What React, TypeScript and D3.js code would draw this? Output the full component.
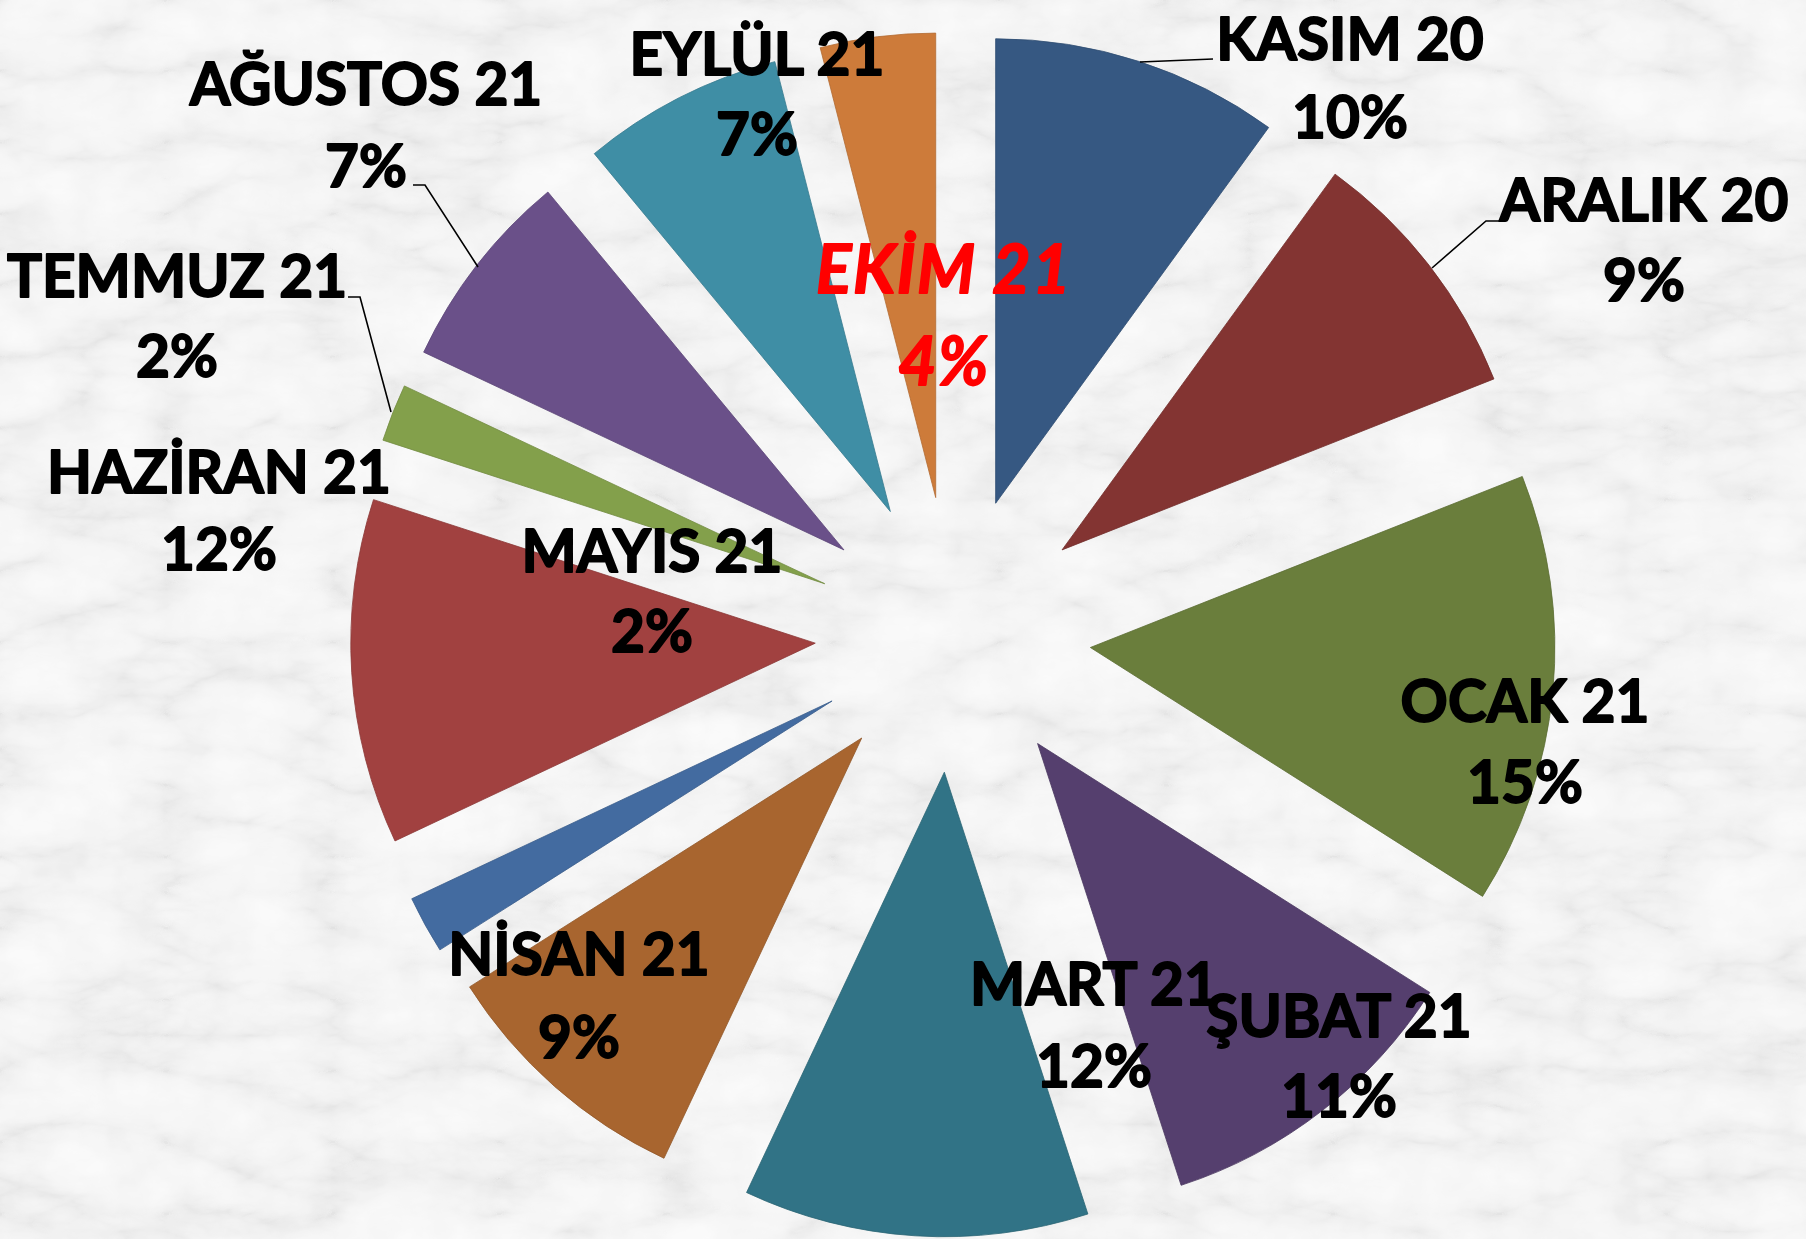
import React from "react";
import * as d3 from "d3";

const months = ["KASIM 20", "ARALIK 20", "OCAK 21", "ŞUBAT 21", "MART 21", "NİSAN 21", "MAYIS 21", "HAZİRAN 21", "TEMMUZ 21", "AĞUSTOS 21", "EYLÜL 21", "EKİM 21"];
const shares = [10, 9, 15, 11, 12, 9, 2, 12, 2, 7, 7, 4];
const sliceColors = ["#365882", "#833432", "#6a7e3c", "#553f6e", "#317386", "#a8652f", "#436ba0", "#a14140", "#83a04b", "#6a5089", "#3f8ea5", "#cd7b3a"];

// layout (label anchor: centre x, first-line baseline y, second-line baseline y)
const labelPos: [number, number, number][] = [
  [1350, 60, 138],
  [1644, 221, 301],
  [1525, 722, 803],
  [1339, 1037, 1117],
  [1094, 1005, 1087],
  [579, 975, 1058],
  [652, 572, 652],
  [219, 493, 570],
  [177, 297, 377],
  [366, 105, 187],
  [757, 75, 155],
  [944, 293, 385],
];
const leaders: [number, number][][] = [
  [[1140, 62], [1213, 59]],
  [[1432, 268], [1486, 221], [1503, 221]],
  [[348, 297], [360, 297], [391, 412]],
  [[413, 185], [425, 185], [478, 267]],
];

const W = 1806;
const H = 1239;
const CX = 953;
const CY = 634.5;
const R = 464.5;
const EXPLODE = 138;

export default function App() {
  React.useEffect(() => {
    document.body.style.margin = "0";
    document.body.style.overflow = "hidden";
  }, []);

  const pie = d3.pie<number>().sort(null).value((d) => d).startAngle(0).endAngle(2 * Math.PI);
  const arcs = pie(shares);
  const arcGen = d3.arc<d3.PieArcDatum<number>>().innerRadius(0).outerRadius(R);
  const line = d3.line();
  const tv = "0.80 0.875 0.915 0.935 0.95 0.958 0.965 0.97";
  const mv = "0.90 0.97 1 1.02";

  return (
    <svg width={W} height={H} style={{ position: "absolute", left: 0, top: 0, display: "block" }}>
      <defs>
        <filter id="marble" x="0" y="0" width="100%" height="100%" filterUnits="userSpaceOnUse">
          <feTurbulence type="turbulence" baseFrequency="0.006 0.014" numOctaves="5" seed="11" result="t" />
          <feColorMatrix in="t" type="matrix" values="1 0 0 0 0  1 0 0 0 0  1 0 0 0 0  0 0 0 0 1" result="g" />
          <feComponentTransfer in="g" result="veins">
            <feFuncR type="table" tableValues={tv} />
            <feFuncG type="table" tableValues={tv} />
            <feFuncB type="table" tableValues={tv} />
          </feComponentTransfer>
          <feTurbulence type="fractalNoise" baseFrequency="0.02" numOctaves="3" seed="4" result="n" />
          <feColorMatrix in="n" type="matrix" values="1 0 0 0 0  1 0 0 0 0  1 0 0 0 0  0 0 0 0 1" result="ng" />
          <feComponentTransfer in="ng" result="mott">
            <feFuncR type="table" tableValues={mv} />
            <feFuncG type="table" tableValues={mv} />
            <feFuncB type="table" tableValues={mv} />
          </feComponentTransfer>
          <feBlend in="veins" in2="mott" mode="multiply" />
        </filter>
      </defs>
      <rect x={0} y={0} width={W} height={H} fill="#ececec" />
      <rect x={0} y={0} width={W} height={H} filter="url(#marble)" />
      <g>
        {arcs.map((a, i) => {
          const mid = (a.startAngle + a.endAngle) / 2;
          const dx = Math.sin(mid) * EXPLODE;
          const dy = -Math.cos(mid) * EXPLODE;
          return (
            <path
              key={months[i]}
              d={arcGen(a) || ""}
              transform={`translate(${CX + dx},${CY + dy})`}
              fill={sliceColors[i]}
              stroke={d3.color(sliceColors[i])!.darker(0.4).toString()}
              strokeWidth={0.8}
            />
          );
        })}
      </g>
      <g fill="none" stroke="#000" strokeWidth={1.6}>
        {leaders.map((pts, i) => (
          <path key={i} d={line(pts) || ""} />
        ))}
      </g>
      <g fontFamily="Lato, 'Open Sans', sans-serif" fontWeight={700} textAnchor="middle" strokeLinejoin="round">
        {months.map((m, i) => {
          const [x, y1, y2] = labelPos[i];
          const red = i === months.length - 1;
          const col = red ? "#ff0000" : "#000";
          return (
            <text
              key={m}
              fill={col}
              stroke={col}
              strokeWidth={1.8}
              fontSize={red ? 66 : 58.5}
              letterSpacing={red ? 1.5 : 0}
              fontStyle={red ? "italic" : "normal"}
            >
              <tspan x={x} y={y1}>{m}</tspan>
              <tspan x={x} y={y2}>{`${shares[i]}%`}</tspan>
            </text>
          );
        })}
      </g>
    </svg>
  );
}
